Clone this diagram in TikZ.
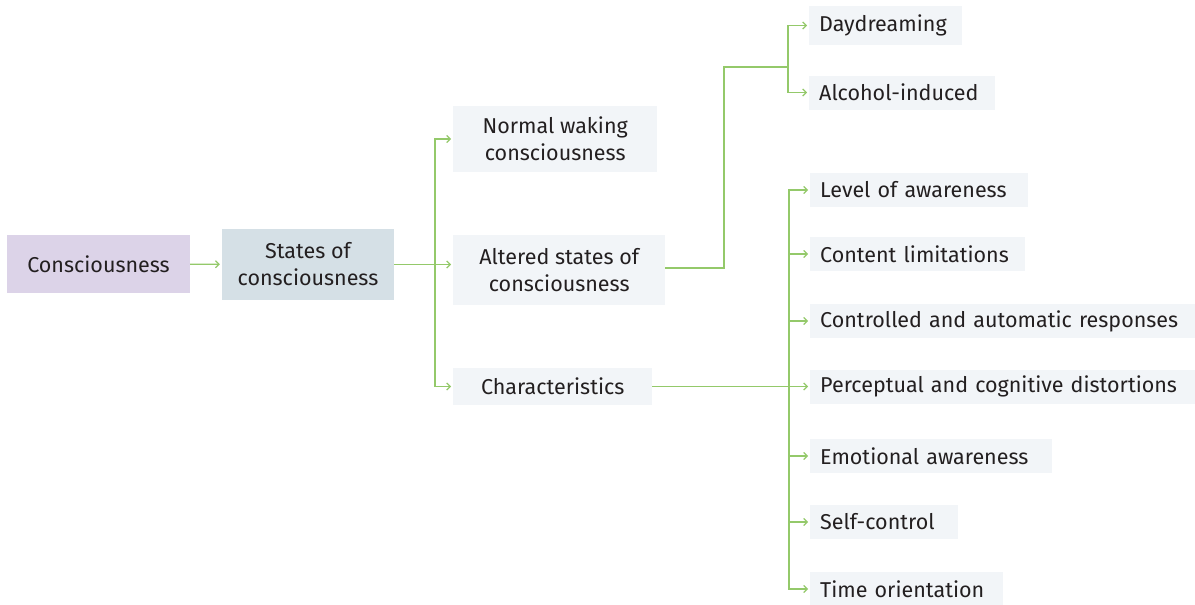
\documentclass[tikz,border=0pt]{standalone}
\usepackage{fontspec}
\setmainfont{Fira Sans}
\usetikzlibrary{arrows.meta, positioning}
\definecolor{lavender}{HTML}{DCD3E8}
\definecolor{slate}{HTML}{D5E0E6}
\definecolor{paleblue}{HTML}{F2F5F8}
\definecolor{leafgreen}{HTML}{94C96A}
\definecolor{ink}{HTML}{231F20}

\begin{document}
\begin{tikzpicture}[x=1pt, y=-1pt,
  base/.style={rectangle, draw=none, text=ink, font=\fontsize{21.5}{27}\selectfont, inner sep=0pt, align=center},
  root box/.style={base, fill=lavender, minimum width=183pt, minimum height=58pt},
  state box/.style={base, fill=slate, minimum width=172pt, minimum height=71pt},
  branch box/.style={base, fill=paleblue, anchor=west},
  leaf box/.style={base, fill=paleblue, anchor=west, inner xsep=10pt, minimum height=34pt, text width=#1, align=left},
  line/.style={draw=leafgreen, line width=1.2pt},
  link/.style={line, -{Straight Barb[length=3.5pt, width=7pt]}, shorten >=2pt},
]
  \useasboundingbox (0,0) rectangle (1195,605);

  % Root and states
  \node[root box] (cons) at (98.5, 264) {Consciousness};
  \node[state box] (states) at (308, 264.5) {States of\\consciousness};

  % Kinds of states
  \node[branch box, minimum width=204pt, minimum height=66pt] (normal) at (453, 139) {Normal waking\\consciousness};
  \node[branch box, minimum width=212pt, minimum height=70pt] (altered) at (453, 270) {Altered states of\\consciousness};
  \node[branch box, minimum width=199pt, minimum height=37pt] (chars) at (453, 386.5) {Characteristics};

  % Altered states
  \node[leaf box=133pt, minimum height=39pt] (day) at (809, 25.5) {Daydreaming};
  \node[leaf box=166pt] (alc) at (809, 92.5) {Alcohol-induced};

  % Characteristics
  \node[leaf box=198pt] (level) at (810, 190) {Level of awareness};
  \node[leaf box=195pt] (content) at (810, 254) {Content limitations};
  \node[leaf box=370pt] (controlled) at (810, 321) {Controlled and automatic responses};
  \node[leaf box=370pt] (perceptual) at (810, 386.5) {Perceptual and cognitive distortions};
  \node[leaf box=222pt] (emotional) at (810, 456) {Emotional awareness};
  \node[leaf box=128pt] (selfcontrol) at (810, 522) {Self-control};
  \node[leaf box=173pt] (time) at (810, 589) {Time orientation};

  % Forks
  \coordinate (fork1) at (435, 265);
  \coordinate (elbow) at (724, 67);
  \coordinate (fork2) at (788, 67);
  \coordinate (fork3) at (789, 386.5);

  % Arrows
  \draw[link] (cons) -- (states);
  \draw[link] (states) -- (states -| altered.west);
  \draw[link] (fork1) |- (normal.west);
  \draw[link] (fork1) |- (chars.west);

  \draw[line] (altered.east |- 0,268) -| (elbow) -- (fork2);
  \draw[link] (fork2) |- (day.west);
  \draw[link] (fork2) |- (alc.west);

  \draw[line] (chars.east) -- (fork3);
  \draw[link] (fork3) |- (level.west);
  \draw[link] (fork3) |- (content.west);
  \draw[link] (fork3) |- (controlled.west);
  \draw[link] (fork3) |- (perceptual.west);
  \draw[link] (fork3) |- (emotional.west);
  \draw[link] (fork3) |- (selfcontrol.west);
  \draw[link] (fork3) |- (time.west);

\end{tikzpicture}
\end{document}
